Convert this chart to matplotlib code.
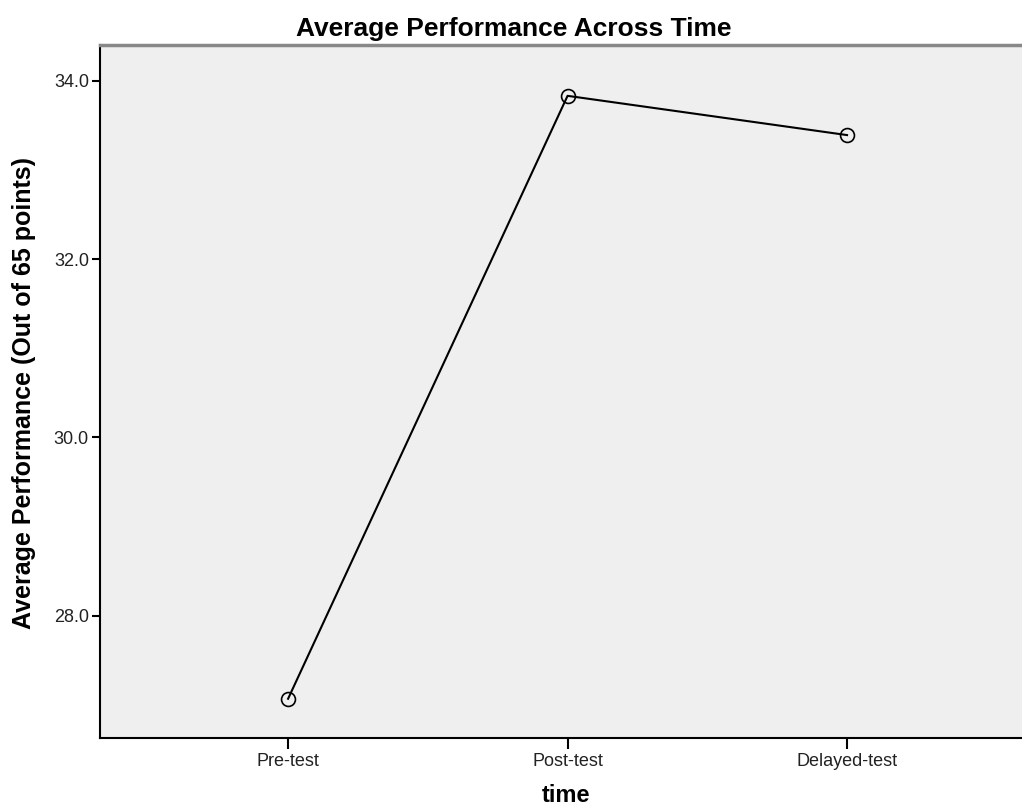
import matplotlib
matplotlib.use("Agg")
import matplotlib.pyplot as plt

plt.rcParams['font.family'] = ['Liberation Sans', 'DejaVu Sans']

categories = ["Pre-test", "Post-test", "Delayed-test"]
means = [27.07, 33.83, 33.39]
yticks = [28.0, 30.0, 32.0, 34.0]

fig = plt.figure(figsize=(10.22, 8.11), dpi=100)
ax = fig.add_axes([100/1022, 73/811, 1 - 100/1022, (738-45)/811])
ax.set_facecolor("#efefef")

x = list(range(len(categories)))
ax.plot(x, means, color="black", linewidth=1.5, marker="o", markersize=10,
        markerfacecolor="none", markeredgecolor="black", markeredgewidth=1.2)

ax.set_xlim(-0.673, 2.626)
ax.set_ylim(26.63, 34.40)
ax.set_xticks(x)
ax.set_xticklabels(categories, fontsize=13, color="#222222")
ax.set_yticks(yticks)
ax.set_yticklabels([f"{v:.1f}" for v in yticks], fontsize=13, color="#222222")
ax.tick_params(axis="y", length=6, width=1.5, color="black", pad=2)
ax.tick_params(axis="x", length=8, width=1.5, color="black", pad=3)

for side in ["left", "bottom"]:
    ax.spines[side].set_color("black")
    ax.spines[side].set_linewidth(1.5)
ax.spines["top"].set_color("#888888")
ax.spines["top"].set_linewidth(2.5)
ax.spines["right"].set_visible(False)

fig.text(514/1022, 1 - 29/811, "Average Performance Across Time", ha="center", va="center",
         fontsize=19, fontweight="bold")
fig.text(566/1022, 1 - 796/811, "time", ha="center", va="center",
         fontsize=17, fontweight="bold")
fig.text(24/1022, 1 - 393/811, "Average Performance (Out of 65 points)", ha="center",
         va="center", rotation=90, fontsize=18, fontweight="bold")

fig.savefig("out.png", dpi=100)
